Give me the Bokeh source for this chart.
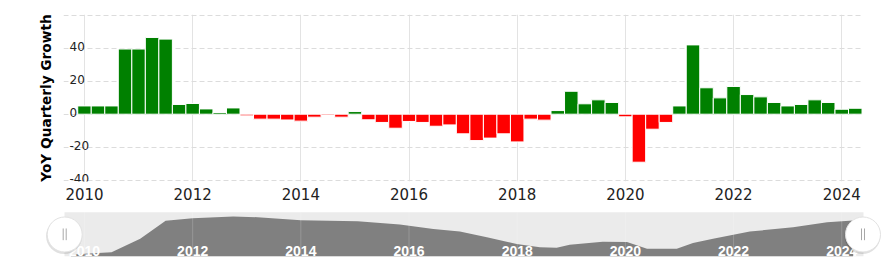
from bokeh.plotting import figure
from bokeh.models import Range1d, FixedTicker
from bokeh.core.properties import value
from bokeh.embed import file_html
from bokeh.resources import INLINE

# ---------------- data ----------------
start_year = 2010
growth = [5.0, 5.0, 5.0, 39.5, 39.5, 46.5, 45.5, 5.9, 6.5, 3.2, 1.0, 3.8,
          -1.0, -3.0, -3.0, -3.5, -4.2, -1.8, -0.8, -1.8, 1.6, -3.4, -5.0, -8.5,
          -4.4, -5.0, -7.3, -6.5, -11.9, -16.0, -14.5, -11.9, -16.8, -3.0, -3.6, 2.2,
          13.9, 6.3, 8.7, 7.1, -1.6, -29.1, -9.1, -5.0, 5.0, 42.0, 16.0, 9.9,
          16.8, 11.9, 10.5, 7.1, 5.0, 5.9, 8.7, 7.1, 3.0, 3.6]
quarter_x = [start_year + i * 0.25 for i in range(len(growth))]

x_ticks = [2010, 2012, 2014, 2016, 2018, 2020, 2022, 2024]
y_grid_ticks = [-40, -20, 0, 20, 40, 60]
y_label_ticks = [-40, -20, 0, 20, 40]
y_label_text = ["-40", "-20", "0", "20", "40"]

nav_x = [2009.75, 2010.5, 2011.03, 2011.5, 2012.0, 2012.75, 2013.2, 2014.0, 2015.05,
         2015.83, 2016.45, 2016.94, 2017.44, 2017.99, 2018.42, 2018.73, 2018.97,
         2019.58, 2020.03, 2020.4, 2020.95, 2021.25, 2021.62, 2022.3, 2023.1,
         2023.73, 2024.21]
nav_y = [3.8, 9.1, 39.4, 80.3, 86.4, 90.2, 88.6, 81.8, 79.5, 72.0, 62.0, 56.0, 43.0,
         28.0, 20.5, 19.0, 26.0, 33.0, 32.0, 16.7, 16.7, 30.0, 39.4, 56.0, 65.9,
         77.3, 81.0]
nav_labels = ["2010", "2012", "2014", "2016", "2018", "2020", "2022", "2024"]

# ---------------- geometry ----------------
W = 891
ML, MR, MT, MB = 63, 28, 14, 24
H1 = 205
H2 = 63
FW = W - ML - MR
PX_PER_YEAR = 54.09
x_start = 2009.612
x_end = x_start + FW / PX_PER_YEAR
y_lo, y_hi = -40.79, 60.42

GREEN = "#008000"
RED = "#ff0000"
colors = [GREEN if v >= 0 else RED for v in growth]

FONT = "DejaVu Sans"

# ---------------- main chart ----------------
p = figure(width=W, height=H1, x_range=Range1d(x_start, x_end),
           y_range=Range1d(y_lo, y_hi), output_backend="svg",
           toolbar_location=None, min_border_left=ML, min_border_right=MR,
           min_border_top=MT, min_border_bottom=MB)
p.outline_line_color = None
p.background_fill_color = "white"
p.border_fill_color = "white"

p.xaxis.ticker = FixedTicker(ticks=x_ticks)
p.xaxis.axis_line_color = None
p.xaxis.major_tick_line_color = None
p.xaxis.minor_tick_line_color = None
p.xaxis.major_tick_out = 0
p.xaxis.major_label_standoff = 6
p.xaxis.major_label_text_font = FONT
p.xaxis.major_label_text_font_size = "15px"
p.xaxis.major_label_text_color = "#222222"

p.yaxis.ticker = FixedTicker(ticks=[])
p.yaxis.axis_line_color = None
p.yaxis.major_tick_line_color = None
p.yaxis.minor_tick_line_color = None
p.yaxis.major_tick_out = 0
p.yaxis.axis_label = "YoY Quarterly Growth"
p.yaxis.axis_label_text_font = FONT
p.yaxis.axis_label_text_font_style = "bold"
p.yaxis.axis_label_text_font_size = "13.7px"
p.yaxis.axis_label_text_color = "#000000"
p.yaxis.axis_label_standoff = 10

p.xgrid.ticker = FixedTicker(ticks=x_ticks)
p.xgrid.grid_line_color = "#e3e3e3"
p.xgrid.grid_line_width = 1
p.ygrid.ticker = FixedTicker(ticks=y_grid_ticks)
p.ygrid.grid_line_color = "#dcdcdc"
p.ygrid.grid_line_dash = "5 3"
p.ygrid.grid_line_width = 1

p.vbar(x=quarter_x, top=growth, width=0.25, fill_color=colors,
       line_color="white", line_width=1)

p.text(x=[x_start] * len(y_label_ticks), y=y_label_ticks, text=y_label_text,
       x_offset=6, y_offset=-2, text_align="left", text_baseline="alphabetic",
       text_font=value(FONT), text_font_size="12px", text_color="#222222")

# ---------------- navigator ----------------
nav_start = x_start - ML / PX_PER_YEAR
nav_end = x_end + MR / PX_PER_YEAR
NAV_SCALE = 0.44  # px per unit
nav_bottom_px = 255.7 - H1   # from top of nav figure
ny_lo = -(H2 - nav_bottom_px) / NAV_SCALE
ny_hi = 100 + (211.7 - H1) / NAV_SCALE

q = figure(width=W, height=H2, x_range=Range1d(nav_start, nav_end),
           y_range=Range1d(ny_lo, ny_hi), output_backend="svg",
           toolbar_location=None, min_border=0, x_axis_type=None, y_axis_type=None)
q.outline_line_color = None
q.xgrid.visible = False
q.ygrid.visible = False
q.background_fill_color = "white"
q.border_fill_color = "white"

q.quad(left=[x_start + 1 / PX_PER_YEAR], right=[x_end], bottom=[0], top=[100],
       fill_color="#ebebeb", line_color=None)
q.varea(x=nav_x, y1=[0] * len(nav_x), y2=nav_y, fill_color="#808080")
q.segment(x0=x_ticks, x1=x_ticks, y0=[0] * len(x_ticks), y1=[100] * len(x_ticks),
          line_color="#ffffff", line_alpha=0.18, line_width=1)
q.text(x=x_ticks, y=[12.3] * len(x_ticks), text=nav_labels, text_align="center",
       text_baseline="alphabetic", text_font=value("Liberation Sans"),
       text_font_size="14px", text_font_style="bold", text_color="white")

hx = [x_start + 1.2 / PX_PER_YEAR, x_start + 799.5 / PX_PER_YEAR]
hy = [49.3, 49.3]
q.scatter(x=[h - 0.6 / PX_PER_YEAR for h in hx], y=[h - 3.5 for h in hy], size=36,
          marker="circle", fill_color="#000000", fill_alpha=0.12, line_color=None)
q.scatter(x=hx, y=hy, size=35, marker="circle", fill_color="white",
          line_color="#e2e2e2", line_width=1)
dx = 1.5 / PX_PER_YEAR
q.segment(x0=[hx[0] - dx, hx[0] + dx, hx[1] - dx, hx[1] + dx],
          x1=[hx[0] - dx, hx[0] + dx, hx[1] - dx, hx[1] + dx],
          y0=[36.4] * 4, y1=[63.0] * 4, line_color="#a8a8a8", line_width=1)

open("out.html", "w").write(file_html([p, q], INLINE))
